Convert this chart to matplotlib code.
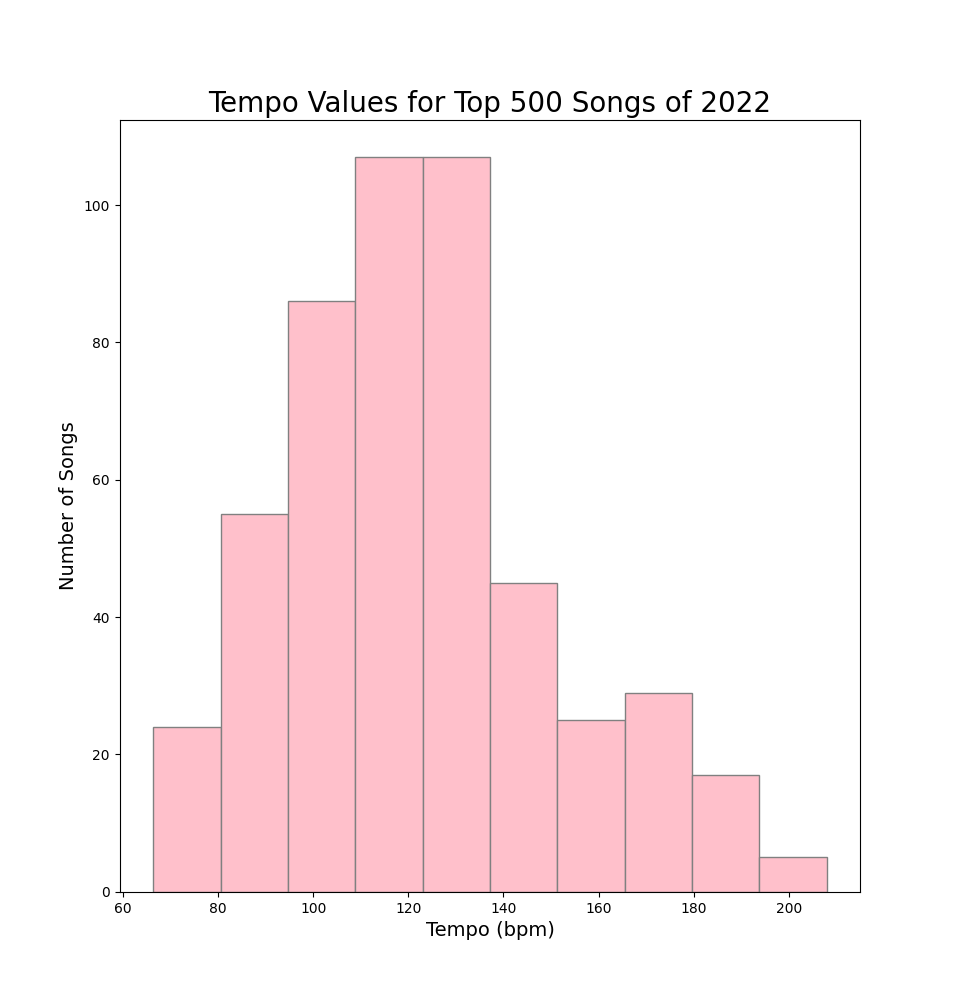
import numpy as np
import matplotlib
matplotlib.use("Agg")
import matplotlib.pyplot as plt

# histogram
bin_edges = [66.3, 80.47, 94.64, 108.81, 122.98, 137.15, 151.32, 165.49, 179.66, 193.83, 208.0]
counts = [24, 55, 86, 107, 107, 45, 25, 29, 17, 5]

fig, ax = plt.subplots(figsize=(9.56, 10.02), dpi=100)
ax.hist(bin_edges[:-1], bins=bin_edges, weights=counts,
        color='pink', edgecolor='grey')
ax.set_title('Tempo Values for Top 500 Songs of 2022', fontsize=20)
ax.set_xlabel('Tempo (bpm)', fontsize=14)
ax.set_ylabel('Number of Songs', fontsize=14)

fig.savefig('out.png', dpi=100)
